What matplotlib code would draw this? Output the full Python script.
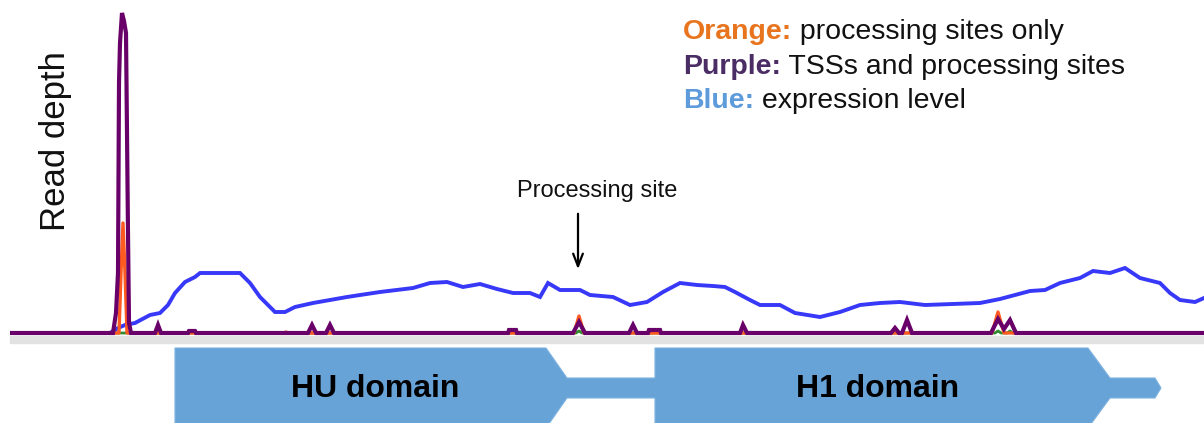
import matplotlib
matplotlib.use('Agg')
import matplotlib.pyplot as plt
from matplotlib.patches import Polygon, Rectangle

plt.rcParams['font.family'] = ['Liberation Sans', 'DejaVu Sans']

# genomic position (arbitrary units) and read depth for each track
blue_pos = [10, 110, 118, 125, 135, 150, 160, 168, 175, 185, 195, 200, 240, 250, 260,
            275, 285, 295, 313, 347, 380, 413, 430, 447, 463, 480, 497, 513, 530, 540,
            548, 560, 580, 590, 613, 630, 647, 663, 680, 697, 713, 725, 735, 750, 760,
            780, 795, 820, 840, 860, 880, 900, 925, 980, 1000, 1015, 1030, 1045, 1060,
            1080, 1093, 1110, 1125, 1140, 1160, 1170, 1180, 1195, 1204]
blue_depth = [0, 0, 5, 8, 10, 18, 20, 28, 40, 51, 56, 60, 60, 50, 36,
              21, 21, 26, 30, 36, 41, 45, 50, 51, 46, 49, 44, 40, 40, 36,
              50, 43, 43, 38, 36, 28, 31, 41, 50, 48, 47, 46, 41, 33, 28,
              28, 20, 16, 21, 28, 30, 31, 28, 30, 34, 38, 42, 43, 50,
              55, 62, 60, 65, 55, 50, 40, 33, 31, 35]

purple_pos = [10, 113, 116, 118, 119, 120, 122, 124, 126, 127, 128, 129, 131,
              155, 158, 161, 188, 189, 195, 196, 308, 312, 316, 326, 330, 334,
              508, 509, 516, 517, 573, 579, 585, 629, 633, 637, 648, 649, 660, 661,
              740, 743, 747, 891, 895, 899, 902, 907, 912, 991, 998, 1004, 1010, 1016, 1204]
purple_depth = [0, 0, 20, 60, 250, 290, 320, 312, 300, 200, 100, 10, 0,
                0, 8, 0, 0, 2, 2, 0, 0, 8, 0, 0, 8, 0,
                0, 3, 3, 0, 0, 11, 0, 0, 8, 0, 0, 3, 3, 0,
                0, 8, 0, 0, 5, 0, 0, 13, 0, 0, 14, 4, 13, 0, 0]

orange_pos = [10, 119, 121, 123, 125, 127, 284, 286, 288, 574, 579, 584, 992, 998, 1004, 1204]
orange_depth = [0, 0, 60, 110, 60, 0, 0, 1, 0, 0, 17, 0, 0, 21, 0, 0]

green_pos = [10, 576, 579, 582, 995, 998, 1001, 1007, 1010, 1013, 1204]
green_depth = [0, 0, 2, 0, 0, 2, 0, 0, 2, 0, 0]

# gene model: domain start, shoulder, neck
domains = ['HU domain', 'H1 domain']
dom_start = [175, 655]
dom_shoulder = [546, 1088]
dom_neck = [567, 1110]
tail_end = 1155
gene_tip = 1161

fig = plt.figure(figsize=(12.04, 4.23), dpi=100)
ax = fig.add_axes([10 / 1204, 83 / 423, 1194 / 1204, 340 / 423])
ax.set_xlim(10, 1204)
ax.set_ylim(-7, 333)
ax.axis('off')

ax.plot(blue_pos, blue_depth, color='#3838F8', lw=2.8, zorder=2, solid_joinstyle='miter')
ax.plot(green_pos, green_depth, color='#2E8B2E', lw=2, zorder=3)
ax.plot(orange_pos, orange_depth, color='#FF5A20', lw=2.4, zorder=4)
ax.plot(purple_pos, purple_depth, color='#690069', lw=3, zorder=5, solid_joinstyle='miter')

# processing site annotation
ax.text(597, 142, 'Processing site', fontsize=17, ha='center', va='center', color='#111111')
ax.annotate('', xy=(578, 61), xytext=(578, 122),
            arrowprops=dict(arrowstyle='->,head_length=0.9,head_width=0.35',
                            color='black', lw=1.6))

# y label
fig.text(56 / 1204, 1 - 141 / 423, 'Read depth', rotation=90, fontsize=25,
         ha='center', va='center', color='#111111')

# colour key
key_names = ['Orange:', 'Purple:', 'Blue:']
key_desc = [' processing sites only', ' TSSs and processing sites', ' expression level']
key_colors = ['#E8741E', '#4B2D66', '#5E9BDB']
key_base = [39, 74, 108]
for name, desc, col, yb in zip(key_names, key_desc, key_colors, key_base):
    t = fig.text(683 / 1204, 1 - yb / 423, name, fontsize=20.5, fontweight='bold',
                 color=col, ha='left', va='baseline')
    ax.annotate(desc, xy=(1, 0), xycoords=t, fontsize=20.5, color='#111111',
                ha='left', va='bottom', annotation_clip=False)

# grey band under the baseline
fig.patches.append(Rectangle((10 / 1204, 80 / 423), 1194 / 1204, 7 / 423,
                             transform=fig.transFigure, color='#E2E2E2', zorder=0))

# gene track
gx = fig.add_axes([10 / 1204, 0, 1194 / 1204, 80 / 423])
gx.set_xlim(10, 1204)
gx.set_ylim(-35, 45)
gx.axis('off')
H, h = 40, 10
top = []
for i in range(len(domains)):
    if i > 0:
        top += [(dom_start[i], h)]
    top += [(dom_start[i], H), (dom_shoulder[i], H), (dom_neck[i], h)]
bot = []
for i in reversed(range(len(domains))):
    bot += [(dom_neck[i], -h), (dom_shoulder[i], -H), (dom_start[i], -H)]
    if i > 0:
        bot += [(dom_start[i], -h)]
pts = top + [(tail_end, h), (gene_tip, 0), (tail_end, -h)] + bot
gx.add_patch(Polygon(pts, closed=True, facecolor='#68A3D8', edgecolor='#7DB2E0', lw=0.8))

for name, s, sh in zip(domains, dom_start, dom_shoulder):
    gx.text((s + sh) / 2 + (6 if s > 600 else 15), -1, name, fontsize=23, fontweight='bold',
            ha='center', va='center', color='black')

fig.savefig('out.png', dpi=100)
